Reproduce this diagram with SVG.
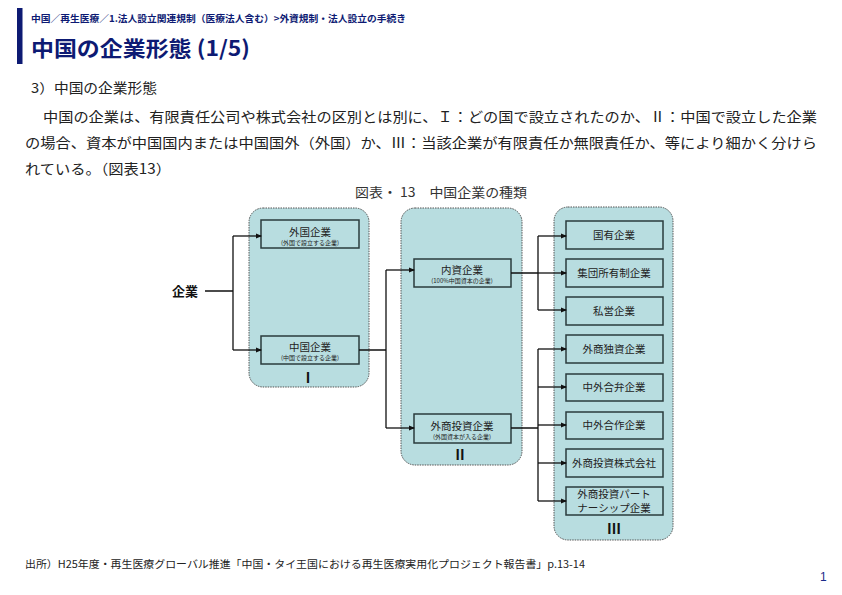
<svg xmlns="http://www.w3.org/2000/svg" width="842" height="595" viewBox="0 0 842 595">
<defs>
<marker id="ah" markerWidth="6" markerHeight="6" refX="5" refY="3" orient="auto" markerUnits="userSpaceOnUse">
<path d="M0,0.5 L6,3 L0,5.5 Z" fill="#111"/>
</marker>
<style>
.jp{font-family:"Noto Sans CJK JP","Noto Sans",sans-serif;}
.hd{fill:#0d1a73;font-weight:bold;}
.grp{fill:#b8dde0;stroke:#555;stroke-width:1;stroke-dasharray:1.5 1;}
.box{fill:#b8dde0;stroke:#2a3b3d;stroke-width:1.5;}
.bt{font-size:10.5px;fill:#222;text-anchor:middle;}
.st{font-size:6px;fill:#222;text-anchor:middle;}
.rn{font-family:"Liberation Serif","Noto Sans CJK JP",serif;font-weight:bold;font-size:14px;fill:#111;text-anchor:middle;}
.ln{fill:none;stroke:#111;stroke-width:1.3;}
.ar{fill:none;stroke:#111;stroke-width:1.3;marker-end:url(#ah);}
</style>
</defs>
<rect width="842" height="595" fill="#fff"/>
<rect x="17" y="8" width="5.5" height="56" fill="#0d1a73"/>
<text class="jp hd" x="31" y="22" font-size="9.5" textLength="375" lengthAdjust="spacingAndGlyphs">中国／再生医療／1.法人設立関連規制（医療法人含む）&gt;外資規制・法人設立の手続き</text>
<text class="jp hd" x="31" y="56" font-size="21" textLength="219" lengthAdjust="spacingAndGlyphs">中国の企業形態 (1/5)</text>
<text class="jp" x="31" y="93" font-size="13.5" fill="#222" textLength="126" lengthAdjust="spacingAndGlyphs">3）中国の企業形態</text>
<text class="jp" x="43" y="122" font-size="14" fill="#222" textLength="774" lengthAdjust="spacingAndGlyphs">中国の企業は、有限責任公司や株式会社の区別とは別に、Ｉ：どの国で設立されたのか、Ⅱ：中国で設立した企業</text>
<text class="jp" x="25" y="148" font-size="14" fill="#222" textLength="792" lengthAdjust="spacingAndGlyphs">の場合、資本が中国国内または中国国外（外国）か、Ⅲ：当該企業が有限責任か無限責任か、等により細かく分けら</text>
<text class="jp" x="25" y="174" font-size="14" fill="#222" textLength="146" lengthAdjust="spacingAndGlyphs">れている。（図表13）</text>
<text x="355" y="197" font-size="13" fill="#333" font-family="'Noto Sans CJK JP',serif" textLength="172" lengthAdjust="spacingAndGlyphs">図表・ 13　中国企業の種類</text>

<g id="group-I"><rect class="grp" x="249" y="208" width="120" height="179" rx="14"/><text class="rn" x="308" y="383">Ⅰ</text></g>
<g id="group-II"><rect class="grp" x="401" y="208" width="121" height="257" rx="14"/><text class="rn" x="460" y="460">Ⅱ</text></g>
<g id="group-III"><rect class="grp" x="554" y="207" width="119" height="333" rx="14"/><text class="rn" x="614" y="534">Ⅲ</text></g>

<g id="n-kigyo"><text x="172" y="296" font-size="13" font-weight="bold" fill="#111" font-family="'Noto Sans CJK JP',serif">企業</text></g>
<g id="n-gaikoku"><rect class="box" x="261" y="220" width="98" height="28"/><text class="jp bt" x="310" y="236">外国企業</text><text class="jp st" x="310" y="245">(外国で設立する企業)</text></g>
<g id="n-chugoku"><rect class="box" x="261" y="336" width="98" height="28"/><text class="jp bt" x="310" y="351">中国企業</text><text class="jp st" x="310" y="360">(中国で設立する企業)</text></g>
<g id="n-naishi"><rect class="box" x="414" y="259" width="97" height="28"/><text class="jp bt" x="462" y="274">内資企業</text><text class="jp st" x="462" y="283">(100%中国資本の企業)</text></g>
<g id="n-gaisho"><rect class="box" x="414" y="414" width="97" height="29"/><text class="jp bt" x="462" y="430">外商投資企業</text><text class="jp st" x="462" y="439">(外国資本が入る企業)</text></g>
<g id="n-koku"><rect class="box" x="566" y="221" width="97" height="28"/><text class="jp bt" x="614" y="239">国有企業</text></g>
<g id="n-shudan"><rect class="box" x="566" y="259" width="97" height="28"/><text class="jp bt" x="614" y="277">集団所有制企業</text></g>
<g id="n-shiei"><rect class="box" x="566" y="297" width="97" height="28"/><text class="jp bt" x="614" y="315">私営企業</text></g>
<g id="n-dokushi"><rect class="box" x="566" y="335" width="97" height="28"/><text class="jp bt" x="614" y="353">外商独資企業</text></g>
<g id="n-goben"><rect class="box" x="566" y="374" width="97" height="27"/><text class="jp bt" x="614" y="391">中外合弁企業</text></g>
<g id="n-gosaku"><rect class="box" x="566" y="412" width="97" height="27"/><text class="jp bt" x="614" y="429">中外合作企業</text></g>
<g id="n-kabu"><rect class="box" x="566" y="449" width="97" height="28"/><text class="jp bt" x="614" y="467">外商投資株式会社</text></g>
<g id="n-partner"><rect class="box" x="566" y="487" width="97" height="28"/><text class="jp bt" x="614" y="498" font-size="10">外商投資パート</text><text class="jp bt" x="614" y="512" font-size="10">ナーシップ企業</text></g>

<g id="connectors">
<path class="ln" d="M205,291 H233 M233,236 V350"/>
<path class="ar" d="M233,236 H261"/>
<path class="ar" d="M233,350 H261"/>
<path class="ln" d="M359,350 H386 M386,270 V428"/>
<path class="ar" d="M386,270 H414"/>
<path class="ar" d="M386,428 H414"/>
<path class="ln" d="M511,273 H538 M538,236 V310"/>
<path class="ar" d="M538,236 H566"/>
<path class="ar" d="M538,273 H566"/>
<path class="ar" d="M538,310 H566"/>
<path class="ln" d="M511,428 H538 M538,349 V501"/>
<path class="ar" d="M538,349 H566"/>
<path class="ar" d="M538,387 H566"/>
<path class="ar" d="M538,425 H566"/>
<path class="ar" d="M538,463 H566"/>
<path class="ar" d="M538,501 H566"/>
</g>

<text class="jp" x="25" y="568" font-size="10.5" fill="#222" textLength="560" lengthAdjust="spacingAndGlyphs">出所）H25年度・再生医療グローバル推進「中国・タイ王国における再生医療実用化プロジェクト報告書」p.13-14</text>
<text x="820" y="581" font-size="12" fill="#1a2a8a" font-family="'Liberation Sans',sans-serif">1</text>
</svg>
